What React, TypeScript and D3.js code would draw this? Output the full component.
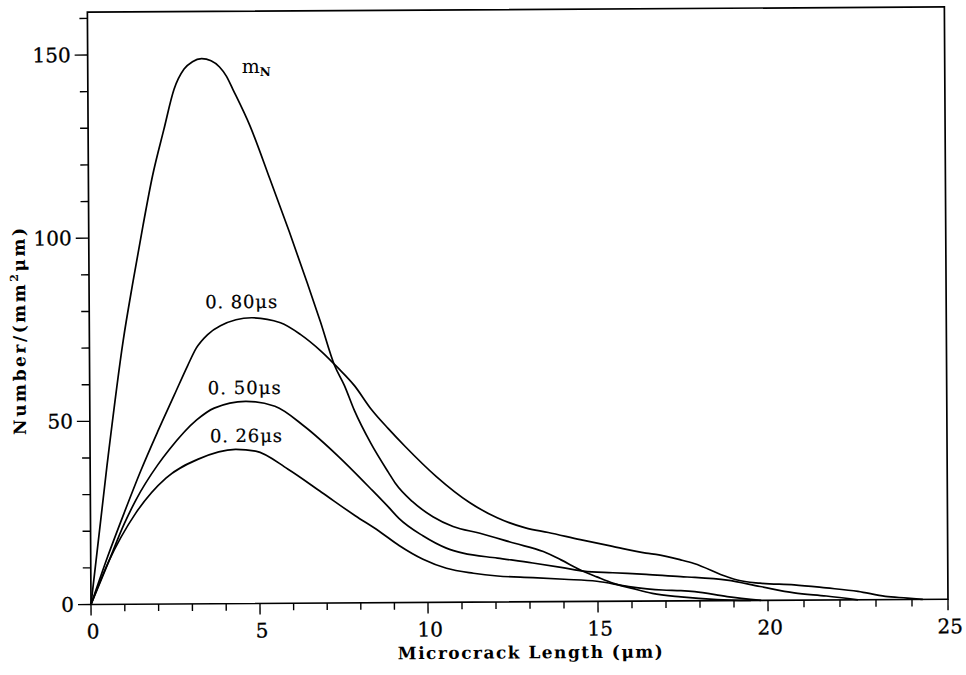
import React from "react";
import * as d3 from "d3";

// ---- data ----
const xMajorTicks = [0, 5, 10, 15, 20, 25];
const yMajorTicks = [0, 50, 100, 150];

const mNx = [0, 0.5, 1.0, 1.3, 1.6, 1.9, 2.24, 2.55, 2.85, 3.1, 3.37, 3.65, 3.9, 4.1, 4.29, 4.79, 5.37, 5.94, 6.45, 6.85, 7.26, 7.55, 7.85, 8.33, 8.85, 9.05, 9.55, 10.16, 10.75, 11.54, 12.56, 13.4, 13.92, 14.49, 14.97, 15.46, 16.01, 16.6, 17.44, 18.5, 19.5];
const mNy = [0, 38, 72, 88, 103, 117, 129.5, 140.5, 146, 148, 148.8, 148.2, 146.5, 144, 140.4, 130.4, 115.9, 101.4, 87.8, 76.8, 64.9, 59.4, 52.4, 43.5, 35.5, 32.6, 27.6, 23.4, 20.7, 18.8, 16.0, 13.7, 11.4, 8.6, 6.7, 4.9, 3.5, 2.1, 1.1, 0.3, 0];

const s080x = [0, 0.5, 1, 1.5, 2, 2.5, 2.9, 3.16, 3.5, 3.88, 4.8, 5.66, 6.25, 6.86, 7.35, 7.85, 8.34, 8.85, 9.35, 10.26, 11.24, 12.05, 12.88, 13.55, 14.49, 15.44, 16.42, 16.8, 17.44, 17.83, 18.8, 19.1, 19.77, 20.73, 21.62, 22.5, 23.26, 23.87, 24.3];
const s080y = [0, 13, 25, 36.5, 47, 57, 65, 69.8, 73.5, 75.9, 78.0, 76.6, 73.4, 68.8, 64.3, 59.3, 52.9, 47.5, 42.6, 34.4, 27.2, 23.0, 20.2, 18.9, 16.9, 15.0, 13.1, 12.6, 11.2, 10.2, 6.5, 5.6, 4.7, 4.2, 3.3, 2.3, 0.9, 0.4, 0];

const s050x = [0, 0.5, 1, 1.35, 2, 2.34, 3.16, 3.68, 4.61, 5.48, 6.35, 7.35, 8.33, 8.85, 9.15, 9.86, 10.55, 11.04, 12.05, 13.09, 14.01, 14.58, 15.44, 16.42, 17.44, 17.85, 18.8, 19.77, 20.73, 21.62, 22.5];
const s050y = [0, 11, 22, 28.5, 38, 42.1, 50.2, 53.4, 55.2, 53.8, 48.3, 40.1, 31.0, 26.0, 23.0, 18.2, 14.8, 13.4, 12.0, 10.6, 9.2, 8.3, 7.8, 7.3, 6.6, 6.4, 5.6, 3.8, 2.0, 1.1, 0];

const s026x = [0, 0.51, 1.35, 2.24, 3.2, 4.3, 4.9, 5.86, 6.86, 7.85, 8.55, 9.15, 9.86, 10.55, 11.34, 12.05, 13.09, 14.01, 14.97, 15.91, 16.9, 17.44, 17.85, 18.8, 19.8];
const s026y = [0, 11.3, 25.0, 34.4, 39.5, 42.1, 41.6, 36.6, 30.2, 23.8, 19.6, 15.6, 11.8, 9.3, 7.9, 7.1, 6.6, 6.1, 5.5, 4.0, 3.0, 2.8, 2.5, 1.1, 0];

const seriesList = [
  { name: "mN", xs: mNx, ys: mNy },
  { name: "0.80", xs: s080x, ys: s080y },
  { name: "0.50", xs: s050x, ys: s050y },
  { name: "0.26", xs: s026x, ys: s026y },
];

const FONT = "'DejaVu Serif', serif";

export default function App() {
  const W = 966, H = 675;
  const x = d3.scaleLinear().domain(xMajorTicks).range([91, 260, 428, 598, 768, 948]);
  const y = d3.scaleLinear().domain([0, 150]).range([604.5, 55]);
  const yTopVal = 161.7;
  const xMinor = d3.range(0, 26, 1);
  const yMinor = d3.range(0, 161, 10);

  const line = (xs: number[], ys: number[]) =>
    d3.line<number>()
      .x((_, i) => x(xs[i]))
      .y((d) => y(d))
      .curve(d3.curveMonotoneX)(ys) as string;

  const x0 = x(0), x1 = x(25), y0 = y(0), y1 = y(yTopVal);

  return (
    <svg width={W} height={H} style={{ position: "absolute", left: 0, top: 0, background: "#fff" }}>
      <rect x={0} y={0} width={W} height={H} fill="#fff" />
      <g transform={`rotate(-0.35, ${x0}, ${y0})`} fontFamily={FONT} fill="#000">
        {/* frame */}
        <path d={`M${x0},${y1}H${x1}V${y0}H${x0}Z`} fill="none" stroke="#000" strokeWidth={1.7} />
        {/* y ticks */}
        {yMinor.map((v) => {
          const major = yMajorTicks.includes(v);
          return <line key={"yt" + v} x1={x0 - (major ? 13 : 8)} x2={x0} y1={y(v)} y2={y(v)} stroke="#000" strokeWidth={1.4} />;
        })}
        {yMajorTicks.map((v) => (
          <text key={"yl" + v} x={x0 - 17} y={y(v) + 7} fontSize={20} textAnchor="end" stroke="#000" strokeWidth={0.3}>{v}</text>
        ))}
        {/* x ticks */}
        {xMinor.map((v) => {
          const major = xMajorTicks.includes(v);
          return <line key={"xt" + v} x1={x(v)} x2={x(v)} y1={y0} y2={y0 + (major ? 11 : 7)} stroke="#000" strokeWidth={1.4} />;
        })}
        {xMajorTicks.map((v) => (
          <text key={"xl" + v} x={x(v) + 2} y={y0 + 34} fontSize={20} textAnchor="middle" stroke="#000" strokeWidth={0.3}>{v}</text>
        ))}
        {/* curves */}
        {seriesList.map((s) => (
          <path key={s.name} d={line(s.xs, s.ys)} fill="none" stroke="#000" strokeWidth={1.7} strokeLinejoin="round" />
        ))}
        {/* curve labels */}
        <text x={245} y={74} fontSize={19}>m<tspan fontSize={12} dy={3} fontWeight="bold">N</tspan></text>
        <text x={207} y={309} fontSize={18} textLength={72} lengthAdjust="spacing" stroke="#000" strokeWidth={0.2}>0. 80μs</text>
        <text x={209} y={395} fontSize={18} textLength={73} lengthAdjust="spacing" stroke="#000" strokeWidth={0.2}>0. 50μs</text>
        <text x={211} y={443} fontSize={18} textLength={72} lengthAdjust="spacing" stroke="#000" strokeWidth={0.2}>0. 26μs</text>
        {/* axis titles */}
        <text x={530} y={661} fontSize={17} fontWeight="bold" textAnchor="middle" textLength={265} lengthAdjust="spacing">Microcrack Length (μm)</text>
        <text transform="translate(27,331) rotate(-90)" fontSize={17} fontWeight="bold" textAnchor="middle" textLength={207} lengthAdjust="spacing">
          Number/(mm<tspan fontSize={11} dy={-7}>2</tspan><tspan dy={7}>μm)</tspan>
        </text>
      </g>
    </svg>
  );
}
